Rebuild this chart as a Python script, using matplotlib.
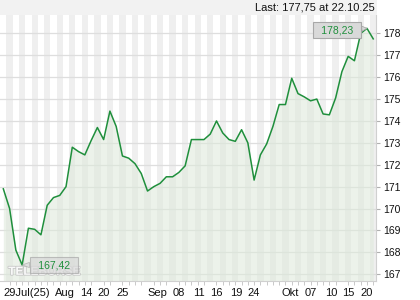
import numpy as np
import matplotlib.pyplot as plt
import matplotlib.patheffects as pe
from matplotlib.patches import Rectangle

# daily closes, 29 Jul 2025 .. 22 Oct 2025 (trading days shown on the chart)
prices = [
    170.9, 170.0, 168.1, 167.42, 169.1, 169.05, 168.8, 170.15, 170.5, 170.6,
    171.0, 172.8, 172.6, 172.45, 173.1, 173.7, 173.15, 174.45, 173.75, 172.4,
    172.3, 172.05, 171.6, 170.8, 171.0, 171.15, 171.45, 171.45, 171.65, 171.95,
    173.15, 173.15, 173.15, 173.4, 174.0, 173.45, 173.15, 173.07, 173.6, 173.0,
    171.3, 172.45, 172.95, 173.75, 174.75, 174.75, 175.95, 175.25, 175.1, 174.92,
    175.0, 174.32, 174.28, 175.05, 176.25, 176.95, 176.75, 178.0, 178.23, 177.75,
]
tick_pos = [0, 8.3, 12.2, 15, 18, 23, 27, 30.3, 33, 36.2, 38.9, 44.3, 48.1, 51.3, 54, 56.9]
tick_labels = ["29Jul(25)", "Aug", "14", "20", "25", "Sep", "08", "11", "16",
               "19", "24", "Okt", "07", "10", "15", "20"]
last_text = "Last: 177,75 at 22.10.25"

plt.rcParams['font.family'] = ['Liberation Sans', 'DejaVu Sans']

x = np.arange(len(prices))
y = np.array(prices)
green = "#1f8f3c"

fig = plt.figure(figsize=(4.2, 3.0), dpi=100)
fig.patch.set_facecolor("white")
ax = fig.add_axes([0.0, 19 / 300, 376 / 420, 266 / 300])
ax.set_xlim(-0.53, len(prices) - 0.56)
ax.set_ylim(166.69, 178.84)

# header band
fig.patches.append(Rectangle((0, 285 / 300), 377 / 420, 15 / 300, transform=fig.transFigure,
                             facecolor="#f2f2f2", edgecolor="none", zorder=0))
fig.text(375 / 420, 292 / 300, last_text, ha="right", va="center", fontsize=8, color="#111111")

# alternating day stripes
for i in range(len(prices)):
    if i % 2 == 1:
        ax.axvspan(i - 0.5, i + 0.5, color="#efefef", lw=0, zorder=0)

ax.yaxis.grid(True, color="#dedede", lw=0.9, zorder=1)
ax.set_axisbelow(True)

ax.fill_between(x, y, 166.69, color="#dde9da", alpha=0.55, lw=0, zorder=2)
ax.plot(x, y, color=green, lw=1.1, zorder=3)

# watermark (behind the low label box)
ax.text(0.022, 0.012, "TELEBÖRSE", transform=ax.transAxes, fontsize=8.5, fontweight="bold",
        color="white", alpha=0.9, zorder=4, va="bottom",
        path_effects=[pe.withStroke(linewidth=1.2, foreground="#c4c4c4")])

# min / max labels
imax = int(np.argmax(y))
imin = int(np.argmin(y))
box = dict(boxstyle="square,pad=0.3", fc="#d9d9d9", ec="#a8a8a8", lw=0.8)
ax.annotate("\u2002" + f"{y[imax]:.2f}".replace(".", ",") + "\u2002", (imax, y[imax]),
            xytext=(-30, -2), textcoords="offset pixels", ha="center", va="center",
            fontsize=7.5, color=green, bbox=box, zorder=5,
            arrowprops=dict(arrowstyle="wedge,tail_width=0.5", fc="#d9d9d9", ec="#a8a8a8",
                            lw=0.6, shrinkA=0, shrinkB=0))
box2 = dict(boxstyle="square,pad=0.3", fc="#d9d9d9", ec="#a8a8a8", lw=0.8, alpha=0.7)
ax.annotate("\u2002" + f"{y[imin]:.2f}".replace(".", ",") + "\u2002", (imin, y[imin]),
            xytext=(32, 0), textcoords="offset pixels", ha="center", va="center",
            fontsize=7.5, color=green, bbox=box2, zorder=5,
            arrowprops=dict(arrowstyle="wedge,tail_width=0.5", fc="#d9d9d9", ec="#a8a8a8",
                            lw=0.6, shrinkA=0, shrinkB=0, alpha=0.7))

# axes styling
for s in ["top", "left"]:
    ax.spines[s].set_visible(False)
ax.spines["right"].set_color("#d0d0d0")
ax.spines["bottom"].set_color("#d0d0d0")
ax.yaxis.tick_right()
ax.set_yticks(range(167, 179))
ax.tick_params(axis="y", length=3, color="#b0b0b0", labelsize=7.5, pad=2, labelcolor="#111111")
ax.set_xticks(x, minor=True)
ax.set_xticks(tick_pos)
ax.set_xticklabels(tick_labels, ha="left")
ax.tick_params(axis="x", which="major", length=0, labelsize=8, pad=5, labelcolor="#111111")
ax.tick_params(axis="x", which="minor", length=3, color="#c0c0c0")

fig.savefig("out.png", dpi=100)
